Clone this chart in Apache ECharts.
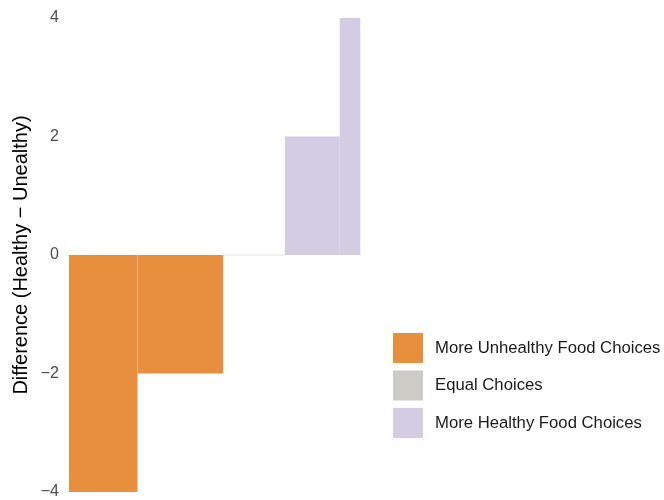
<!DOCTYPE html>
<html>
<head>
<meta charset="utf-8">
<script src="https://cdn.jsdelivr.net/npm/echarts@6/dist/echarts.min.js"></script>
<style>html,body{margin:0;padding:0;background:#fff;}#c{width:664px;height:500px;}</style>
</head>
<body>
<div id="c"></div>
<script>
// Data: participants sorted by difference score
const groupValues = [-4, -2, 0, 2, 4];
const groupCounts = [20, 25, 18, 16, 6];
const groupCategories = ['More Unhealthy Food Choices', 'More Unhealthy Food Choices', 'Equal Choices', 'More Healthy Food Choices', 'More Healthy Food Choices'];
const categoryNames = ['More Unhealthy Food Choices', 'Equal Choices', 'More Healthy Food Choices'];
const categoryColors = ['#E78F3D', '#CCCBC5', '#D4CCE2'];
const yTicks = [-4, -2, 0, 2, 4];

const total = groupCounts.reduce((a, b) => a + b, 0);
const seriesData = categoryNames.map(() => []);
let start = 0;
groupValues.forEach((v, i) => {
  const end = start + groupCounts[i];
  seriesData[categoryNames.indexOf(groupCategories[i])].push([start, end, v]);
  start = end;
});

function renderItem(params, api) {
  const x0 = api.value(0), x1 = api.value(1), v = api.value(2);
  const p0 = api.coord([x0, 0]);
  const p1 = api.coord([x1, v]);
  if (v === 0) {
    return { type: 'line', shape: { x1: p0[0], y1: p0[1], x2: p1[0], y2: p1[1] },
      style: { stroke: '#e3e3e0', lineWidth: 1.2 } };
  }
  return {
    type: 'rect',
    shape: { x: p0[0], y: Math.min(p0[1], p1[1]), width: p1[0] - p0[0], height: Math.abs(p1[1] - p0[1]) },
    style: { fill: api.visual('color') }
  };
}

const chart = echarts.init(document.getElementById('c'));
chart.setOption({
  animation: false,
  backgroundColor: '#fff',
  grid: { left: 69, top: 18, width: 291.3, height: 475.3 },
  xAxis: { type: 'value', min: 0, max: total, show: false },
  yAxis: {
    type: 'value', min: yTicks[0], max: yTicks[yTicks.length - 1], interval: 2,
    axisLine: { show: false }, axisTick: { show: false }, splitLine: { show: false },
    axisLabel: { margin: 10, fontSize: 16, color: '#4d4d4d', fontFamily: 'Liberation Sans',
      padding: [5, 0, 0, 0],
      formatter: v => (v < 0 ? '\u2212' + Math.abs(v) : String(v)) },
    name: 'Difference (Healthy \u2212 Unealthy)', nameLocation: 'middle', nameGap: 38,
    nameTextStyle: { fontSize: 20, color: '#000', fontFamily: 'Liberation Sans' }
  },
  legend: {
    orient: 'vertical', left: 388, top: 328, itemWidth: 30, itemHeight: 30, itemGap: 7.5,
    icon: 'rect', data: categoryNames,
    textStyle: { fontSize: 16.7, color: '#1a1a1a', fontFamily: 'Liberation Sans', padding: [0, 0, 0, 7] }
  },
  series: categoryNames.map((name, i) => ({
    name: name, type: 'custom', renderItem: renderItem,
    encode: { x: [0, 1], y: 2 },
    itemStyle: { color: categoryColors[i] },
    data: seriesData[i]
  }))
});
</script>
</body>
</html>
